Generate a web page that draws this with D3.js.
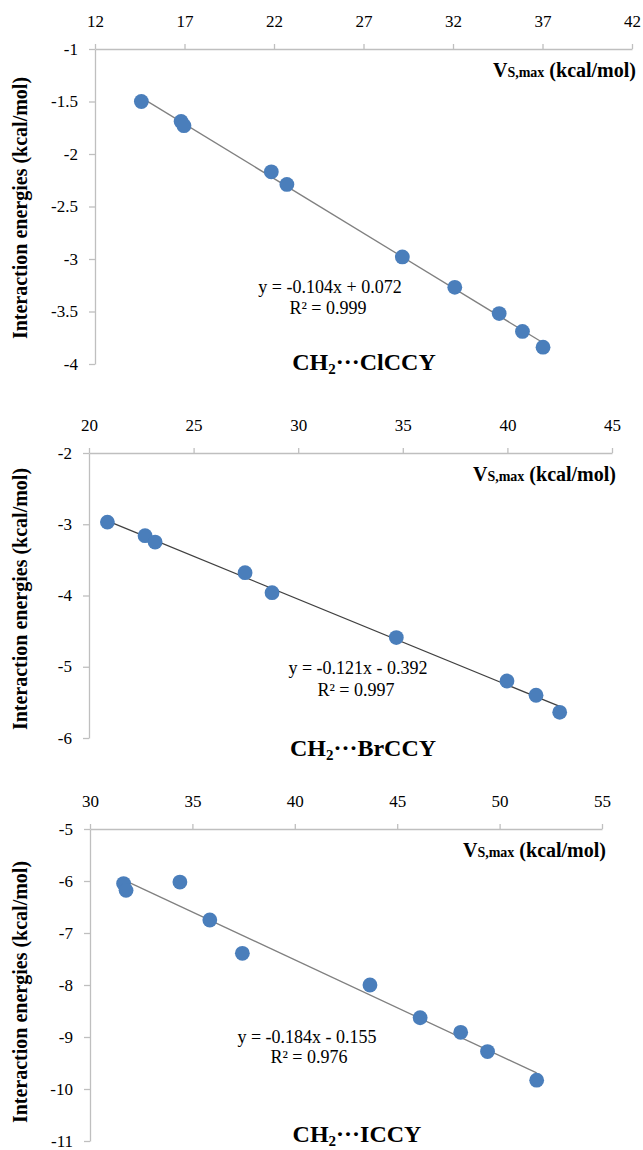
<!DOCTYPE html>
<html>
<head>
<meta charset="utf-8">
<script src="https://cdn.jsdelivr.net/npm/d3@7/dist/d3.min.js"></script>
<style>
	body { margin: 0; background: #fff; }
	svg text { font-family: "Liberation Serif", "Times New Roman", "DejaVu Serif", serif; fill: #000; }
</style>
</head>
<body>
<svg id="chart" width="643" height="1150"></svg>
<script>
//Data----------------------------------------------------------------------
var clX = [14.59, 16.81, 16.97, 21.85, 22.72, 29.17, 32.10, 34.58, 35.88, 37.03];
var clY = [-1.50, -1.69, -1.73, -2.17, -2.29, -2.98, -3.27, -3.52, -3.69, -3.84];
var brX = [20.88, 22.68, 23.16, 27.46, 28.75, 34.69, 39.98, 41.37, 42.50];
var brY = [-2.97, -3.16, -3.25, -3.68, -3.96, -4.59, -5.20, -5.40, -5.64];
var iX = [31.64, 31.76, 34.39, 35.85, 37.44, 43.67, 46.12, 48.10, 49.41, 51.81];
var iY = [-6.05, -6.18, -6.02, -6.75, -7.39, -8.00, -8.63, -8.91, -9.28, -9.83];

var clXTicks = [12, 17, 22, 27, 32, 37, 42];
var clYTicks = [-1, -1.5, -2, -2.5, -3, -3.5, -4];
var brXTicks = [20, 25, 30, 35, 40, 45];
var brYTicks = [-2, -3, -4, -5, -6];
var iXTicks = [30, 35, 40, 45, 50, 55];
var iYTicks = [-5, -6, -7, -8, -9, -10, -11];

var clFit = ['y = -0.104x + 0.072', 'R\u00b2 = 0.999'];
var brFit = ['y = -0.121x - 0.392', 'R\u00b2 = 0.997'];
var iFit = ['y = -0.184x - 0.155', 'R\u00b2 = 0.976'];

var complexNames = ['ClCCY', 'BrCCY', 'ICCY'];

var svg = d3.select('#chart');

//simple least squares line through the points
function fitLine(xs, ys) {
	var mx = d3.mean(xs), my = d3.mean(ys);
	var sxy = 0, sxx = 0;
	for (var i = 0; i < xs.length; i++) {
		sxy += (xs[i] - mx) * (ys[i] - my);
		sxx += (xs[i] - mx) * (xs[i] - mx);
	}
	var b = sxy / sxx;
	return { slope: b, icpt: my - b * mx };
}

//one scatter panel with top x axis, trend line and labels
function drawPanel(obj) {
	var g = svg.append('g').classed('panel', true);

	var x = d3.scaleLinear()
		.domain([obj.xTicks[0], obj.xTicks[obj.xTicks.length - 1]])
		.range([obj.left, obj.right]);
	var y = d3.scaleLinear()
		.domain([obj.yTicks[0], obj.yTicks[obj.yTicks.length - 1]])
		.range([obj.top, obj.bottom]);

	g.append('g')
		.attr('transform', 'translate(0,' + obj.top + ')')
		.call(d3.axisTop(x).tickValues(obj.xTicks).tickSize(5).tickSizeOuter(0)
			.tickPadding(17).tickFormat(function (d) { return String(d); }));
	var yAxis = g.append('g')
		.attr('transform', 'translate(' + obj.left + ',0)')
		.call(d3.axisLeft(y).tickValues(obj.yTicks).tickSize(6).tickSizeOuter(0)
			.tickPadding(11).tickFormat(function (d) { return String(d); }));
	yAxis.selectAll('.tick text').attr('dy', '0.3em');

	g.selectAll('.domain, .tick line')
		.attr('stroke', '#bfbfbf')
		.attr('stroke-width', 1.3);
	g.selectAll('.tick text')
		.attr('font-size', 17)
		.attr('fill', '#000');

	//trend line over the data range
	var fit = fitLine(obj.xs, obj.ys);
	var xr = d3.extent(obj.xs);
	g.append('line')
		.attr('x1', x(xr[0]))
		.attr('y1', y(fit.slope * xr[0] + fit.icpt))
		.attr('x2', x(xr[1]))
		.attr('y2', y(fit.slope * xr[1] + fit.icpt))
		.attr('stroke', obj.lineColor)
		.attr('stroke-width', 1.3);

	g.append('g').selectAll('circle')
		.data(obj.xs.map(function (d, i) { return [d, obj.ys[i]]; }))
		.enter()
		.append('circle')
		.attr('cx', function (d) { return x(d[0]); })
		.attr('cy', function (d) { return y(d[1]); })
		.attr('r', 7.4)
		.attr('fill', '#4a7ebb');

	//axis titles
	var xt = g.append('text')
		.attr('x', obj.right + 4)
		.attr('y', obj.top + 28)
		.attr('text-anchor', 'end')
		.attr('font-weight', 'bold')
		.attr('font-size', 20);
	xt.append('tspan').text('V');
	xt.append('tspan').attr('font-size', 14).text('S,max');
	xt.append('tspan').text(' (kcal/mol)');

	g.append('text')
		.attr('transform', 'translate(20,' + obj.titleMid + ') rotate(-90)')
		.attr('text-anchor', 'middle')
		.attr('dy', '0.35em')
		.attr('font-weight', 'bold')
		.attr('font-size', 20)
		.text('Interaction energies (kcal/mol)');

	//regression text
	g.selectAll('text.fit')
		.data(obj.fit)
		.enter()
		.append('text')
		.classed('fit', true)
		.attr('x', function (d, i) { return obj.eqPos[i][0]; })
		.attr('y', function (d, i) { return obj.eqPos[i][1] + 6; })
		.attr('text-anchor', 'middle')
		.attr('font-size', 18)
		.text(function (d) { return d; });

	var lab = g.append('text')
		.attr('x', obj.labelPos[0])
		.attr('y', obj.labelPos[1])
		.attr('text-anchor', 'middle')
		.attr('font-weight', 'bold')
		.attr('font-size', 24);
	lab.append('tspan').text('CH');
	lab.append('tspan').attr('font-size', 15).attr('dy', 4).text('2');
	lab.append('tspan').attr('dy', -4).text('\u00b7\u00b7\u00b7' + obj.name);

	return g;
}

drawPanel({
	xs: clX, ys: clY, xTicks: clXTicks, yTicks: clYTicks, fit: clFit, name: complexNames[0],
	left: 95, right: 632, top: 49, bottom: 364, titleMid: 208,
	eqPos: [[330, 287], [328, 308]], labelPos: [364, 370], lineColor: '#808080'
});
drawPanel({
	xs: brX, ys: brY, xTicks: brXTicks, yTicks: brYTicks, fit: brFit, name: complexNames[1],
	left: 89, right: 612, top: 453, bottom: 738, titleMid: 599,
	eqPos: [[358, 668], [356, 690]], labelPos: [363, 756], lineColor: '#404040'
});
drawPanel({
	xs: iX, ys: iY, xTicks: iXTicks, yTicks: iYTicks, fit: iFit, name: complexNames[2],
	left: 90, right: 602, top: 829, bottom: 1141, titleMid: 992,
	eqPos: [[307, 1037], [309, 1057]], labelPos: [357, 1142], lineColor: '#808080'
});
</script>
</body>
</html>
